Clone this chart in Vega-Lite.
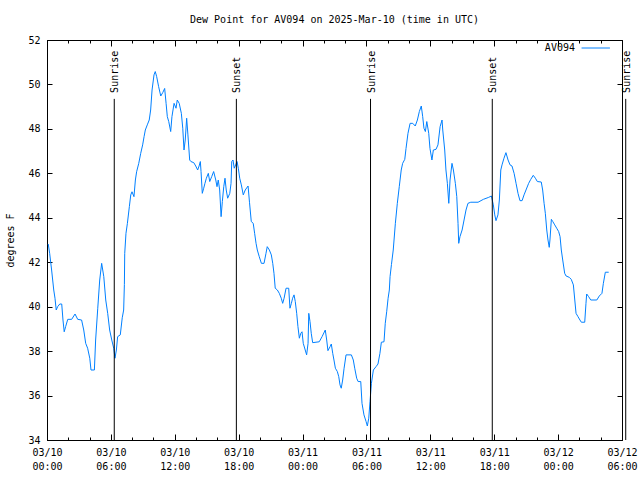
{
  "$schema": "https://vega.github.io/schema/vega-lite/v6.json",
  "width": 575,
  "height": 400,
  "autosize": {"type": "none"},
  "padding": {"left": 47, "top": 40, "right": 18, "bottom": 40},
  "background": "white",
  "title": {"text": "Dew Point for AV094 on 2025-Mar-10 (time in UTC)", "font": "DejaVu Sans Mono", "fontSize": 10, "fontWeight": "normal", "color": "black", "anchor": "middle", "offset": 10},
  "config": {
    "font": "DejaVu Sans Mono",
    "view": {"stroke": "black", "strokeWidth": 1},
    "axis": {"labelFont": "DejaVu Sans Mono", "labelFontSize": 10, "labelColor": "black", "domainColor": "black", "tickColor": "black", "grid": false, "titleFont": "DejaVu Sans Mono", "titleFontSize": 10, "titleFontWeight": "normal", "titleColor": "black"}
  },
  "datasets": {
    "dew": [
      {"t":"2025-03-10T00:07:00Z","v":42.82},{"t":"2025-03-10T00:15:00Z","v":42.40},{"t":"2025-03-10T00:26:00Z","v":41.65},{"t":"2025-03-10T00:38:00Z","v":40.75},{"t":"2025-03-10T00:45:00Z","v":40.38},{"t":"2025-03-10T00:52:00Z","v":39.85},{"t":"2025-03-10T01:00:00Z","v":40.00},{"t":"2025-03-10T01:12:00Z","v":40.12},{"t":"2025-03-10T01:23:00Z","v":40.12},{"t":"2025-03-10T01:30:00Z","v":39.40},{"t":"2025-03-10T01:37:00Z","v":38.87},{"t":"2025-03-10T01:45:00Z","v":39.10},{"t":"2025-03-10T01:57:00Z","v":39.43},{"t":"2025-03-10T02:19:00Z","v":39.43},{"t":"2025-03-10T02:38:00Z","v":39.67},{"t":"2025-03-10T02:53:00Z","v":39.43},{"t":"2025-03-10T03:15:00Z","v":39.40},{"t":"2025-03-10T03:27:00Z","v":38.95},{"t":"2025-03-10T03:38:00Z","v":38.35},{"t":"2025-03-10T03:49:00Z","v":38.13},{"t":"2025-03-10T04:01:00Z","v":37.68},{"t":"2025-03-10T04:08:00Z","v":37.15},{"t":"2025-03-10T04:27:00Z","v":37.15},{"t":"2025-03-10T04:34:00Z","v":38.50},{"t":"2025-03-10T04:46:00Z","v":39.93},{"t":"2025-03-10T04:57:00Z","v":41.20},{"t":"2025-03-10T05:08:00Z","v":41.95},{"t":"2025-03-10T05:20:00Z","v":41.35},{"t":"2025-03-10T05:31:00Z","v":40.30},{"t":"2025-03-10T05:42:00Z","v":39.70},{"t":"2025-03-10T05:53:00Z","v":38.95},{"t":"2025-03-10T06:05:00Z","v":38.50},{"t":"2025-03-10T06:16:00Z","v":38.13},{"t":"2025-03-10T06:23:00Z","v":37.68},{"t":"2025-03-10T06:31:00Z","v":38.05},{"t":"2025-03-10T06:38:00Z","v":38.65},{"t":"2025-03-10T06:53:00Z","v":38.73},{"t":"2025-03-10T07:04:00Z","v":39.50},{"t":"2025-03-10T07:12:00Z","v":39.85},{"t":"2025-03-10T07:16:00Z","v":41.00},{"t":"2025-03-10T07:18:00Z","v":42.40},{"t":"2025-03-10T07:25:00Z","v":43.30},{"t":"2025-03-10T07:33:00Z","v":43.75},{"t":"2025-03-10T07:44:00Z","v":44.50},{"t":"2025-03-10T07:52:00Z","v":45.03},{"t":"2025-03-10T07:59:00Z","v":45.17},{"t":"2025-03-10T08:10:00Z","v":44.95},{"t":"2025-03-10T08:18:00Z","v":45.70},{"t":"2025-03-10T08:25:00Z","v":46.07},{"t":"2025-03-10T08:37:00Z","v":46.45},{"t":"2025-03-10T08:48:00Z","v":46.90},{"t":"2025-03-10T08:59:00Z","v":47.28},{"t":"2025-03-10T09:07:00Z","v":47.65},{"t":"2025-03-10T09:14:00Z","v":47.95},{"t":"2025-03-10T09:25:00Z","v":48.18},{"t":"2025-03-10T09:36:00Z","v":48.40},{"t":"2025-03-10T09:44:00Z","v":48.85},{"t":"2025-03-10T09:52:00Z","v":49.75},{"t":"2025-03-10T10:03:00Z","v":50.43},{"t":"2025-03-10T10:10:00Z","v":50.58},{"t":"2025-03-10T10:18:00Z","v":50.35},{"t":"2025-03-10T10:29:00Z","v":49.90},{"t":"2025-03-10T10:41:00Z","v":49.48},{"t":"2025-03-10T10:52:00Z","v":49.63},{"t":"2025-03-10T11:03:00Z","v":49.82},{"t":"2025-03-10T11:11:00Z","v":49.15},{"t":"2025-03-10T11:18:00Z","v":48.55},{"t":"2025-03-10T11:26:00Z","v":48.33},{"t":"2025-03-10T11:37:00Z","v":47.88},{"t":"2025-03-10T11:44:00Z","v":48.55},{"t":"2025-03-10T11:56:00Z","v":49.15},{"t":"2025-03-10T12:07:00Z","v":48.93},{"t":"2025-03-10T12:14:00Z","v":49.30},{"t":"2025-03-10T12:25:00Z","v":49.15},{"t":"2025-03-10T12:37:00Z","v":48.70},{"t":"2025-03-10T12:45:00Z","v":48.03},{"t":"2025-03-10T12:52:00Z","v":47.05},{"t":"2025-03-10T12:59:00Z","v":47.50},{"t":"2025-03-10T13:07:00Z","v":48.48},{"t":"2025-03-10T13:14:00Z","v":47.73},{"t":"2025-03-10T13:24:00Z","v":46.60},{"t":"2025-03-10T13:31:00Z","v":46.53},{"t":"2025-03-10T13:47:00Z","v":46.48},{"t":"2025-03-10T13:58:00Z","v":46.33},{"t":"2025-03-10T14:09:00Z","v":46.15},{"t":"2025-03-10T14:17:00Z","v":46.33},{"t":"2025-03-10T14:24:00Z","v":46.53},{"t":"2025-03-10T14:28:00Z","v":46.08},{"t":"2025-03-10T14:35:00Z","v":45.10},{"t":"2025-03-10T14:43:00Z","v":45.33},{"t":"2025-03-10T14:50:00Z","v":45.55},{"t":"2025-03-10T14:58:00Z","v":45.78},{"t":"2025-03-10T15:09:00Z","v":46.00},{"t":"2025-03-10T15:17:00Z","v":45.63},{"t":"2025-03-10T15:28:00Z","v":45.85},{"t":"2025-03-10T15:39:00Z","v":46.08},{"t":"2025-03-10T15:51:00Z","v":45.70},{"t":"2025-03-10T15:58:00Z","v":45.40},{"t":"2025-03-10T16:05:00Z","v":45.70},{"t":"2025-03-10T16:13:00Z","v":45.25},{"t":"2025-03-10T16:21:00Z","v":44.05},{"t":"2025-03-10T16:28:00Z","v":44.73},{"t":"2025-03-10T16:36:00Z","v":45.40},{"t":"2025-03-10T16:43:00Z","v":45.78},{"t":"2025-03-10T16:50:00Z","v":45.25},{"t":"2025-03-10T16:58:00Z","v":44.88},{"t":"2025-03-10T17:10:00Z","v":45.10},{"t":"2025-03-10T17:17:00Z","v":45.55},{"t":"2025-03-10T17:21:00Z","v":46.53},{"t":"2025-03-10T17:28:00Z","v":46.60},{"t":"2025-03-10T17:35:00Z","v":46.23},{"t":"2025-03-10T17:43:00Z","v":46.38},{"t":"2025-03-10T17:51:00Z","v":46.53},{"t":"2025-03-10T17:58:00Z","v":46.23},{"t":"2025-03-10T18:06:00Z","v":45.78},{"t":"2025-03-10T18:15:00Z","v":45.48},{"t":"2025-03-10T18:26:00Z","v":45.03},{"t":"2025-03-10T18:37:00Z","v":45.25},{"t":"2025-03-10T18:53:00Z","v":45.43},{"t":"2025-03-10T19:01:00Z","v":44.70},{"t":"2025-03-10T19:11:00Z","v":43.83},{"t":"2025-03-10T19:22:00Z","v":43.75},{"t":"2025-03-10T19:30:00Z","v":43.30},{"t":"2025-03-10T19:38:00Z","v":42.85},{"t":"2025-03-10T19:45:00Z","v":42.55},{"t":"2025-03-10T19:56:00Z","v":42.25},{"t":"2025-03-10T20:08:00Z","v":41.95},{"t":"2025-03-10T20:23:00Z","v":41.95},{"t":"2025-03-10T20:34:00Z","v":42.40},{"t":"2025-03-10T20:41:00Z","v":42.70},{"t":"2025-03-10T20:53:00Z","v":42.55},{"t":"2025-03-10T21:04:00Z","v":42.33},{"t":"2025-03-10T21:12:00Z","v":41.95},{"t":"2025-03-10T21:19:00Z","v":41.50},{"t":"2025-03-10T21:26:00Z","v":40.83},{"t":"2025-03-10T21:38:00Z","v":40.75},{"t":"2025-03-10T21:49:00Z","v":40.60},{"t":"2025-03-10T22:00:00Z","v":40.38},{"t":"2025-03-10T22:08:00Z","v":40.15},{"t":"2025-03-10T22:16:00Z","v":40.38},{"t":"2025-03-10T22:27:00Z","v":40.83},{"t":"2025-03-10T22:42:00Z","v":40.83},{"t":"2025-03-10T22:49:00Z","v":39.93},{"t":"2025-03-10T22:57:00Z","v":40.15},{"t":"2025-03-10T23:04:00Z","v":40.38},{"t":"2025-03-10T23:12:00Z","v":40.53},{"t":"2025-03-10T23:19:00Z","v":40.23},{"t":"2025-03-10T23:27:00Z","v":39.70},{"t":"2025-03-10T23:34:00Z","v":39.10},{"t":"2025-03-10T23:42:00Z","v":38.58},{"t":"2025-03-10T23:50:00Z","v":38.80},{"t":"2025-03-10T23:57:00Z","v":38.87},
      {"t":"2025-03-11T00:04:00Z","v":38.35},{"t":"2025-03-11T00:15:00Z","v":38.05},{"t":"2025-03-11T00:23:00Z","v":37.83},{"t":"2025-03-11T00:31:00Z","v":38.35},{"t":"2025-03-11T00:35:00Z","v":39.70},{"t":"2025-03-11T00:42:00Z","v":39.33},{"t":"2025-03-11T00:49:00Z","v":38.80},{"t":"2025-03-11T00:57:00Z","v":38.38},{"t":"2025-03-11T01:34:00Z","v":38.42},{"t":"2025-03-11T01:50:00Z","v":38.65},{"t":"2025-03-11T02:08:00Z","v":38.95},{"t":"2025-03-11T02:16:00Z","v":38.50},{"t":"2025-03-11T02:23:00Z","v":38.02},{"t":"2025-03-11T02:35:00Z","v":38.20},{"t":"2025-03-11T02:42:00Z","v":38.32},{"t":"2025-03-11T02:50:00Z","v":37.90},{"t":"2025-03-11T02:57:00Z","v":37.60},{"t":"2025-03-11T03:05:00Z","v":37.23},{"t":"2025-03-11T03:16:00Z","v":37.08},{"t":"2025-03-11T03:24:00Z","v":36.85},{"t":"2025-03-11T03:31:00Z","v":36.48},{"t":"2025-03-11T03:38:00Z","v":36.33},{"t":"2025-03-11T03:46:00Z","v":36.70},{"t":"2025-03-11T03:54:00Z","v":37.23},{"t":"2025-03-11T04:05:00Z","v":37.83},{"t":"2025-03-11T04:35:00Z","v":37.83},{"t":"2025-03-11T04:46:00Z","v":37.60},{"t":"2025-03-11T04:54:00Z","v":37.23},{"t":"2025-03-11T05:05:00Z","v":36.78},{"t":"2025-03-11T05:13:00Z","v":36.63},{"t":"2025-03-11T05:28:00Z","v":36.63},{"t":"2025-03-11T05:35:00Z","v":35.65},{"t":"2025-03-11T05:46:00Z","v":35.13},{"t":"2025-03-11T05:58:00Z","v":34.83},{"t":"2025-03-11T06:05:00Z","v":34.63},{"t":"2025-03-11T06:13:00Z","v":34.98},{"t":"2025-03-11T06:20:00Z","v":35.72},{"t":"2025-03-11T06:28:00Z","v":36.55},{"t":"2025-03-11T06:39:00Z","v":37.15},{"t":"2025-03-11T06:54:00Z","v":37.30},{"t":"2025-03-11T07:05:00Z","v":37.42},{"t":"2025-03-11T07:16:00Z","v":37.90},{"t":"2025-03-11T07:24:00Z","v":38.40},{"t":"2025-03-11T07:39:00Z","v":38.42},{"t":"2025-03-11T07:46:00Z","v":39.25},{"t":"2025-03-11T07:54:00Z","v":39.77},{"t":"2025-03-11T08:02:00Z","v":40.38},{"t":"2025-03-11T08:09:00Z","v":40.75},{"t":"2025-03-11T08:13:00Z","v":41.35},{"t":"2025-03-11T08:21:00Z","v":41.90},{"t":"2025-03-11T08:31:00Z","v":42.55},{"t":"2025-03-11T08:43:00Z","v":43.75},{"t":"2025-03-11T08:54:00Z","v":44.65},{"t":"2025-03-11T09:05:00Z","v":45.40},{"t":"2025-03-11T09:16:00Z","v":46.15},{"t":"2025-03-11T09:24:00Z","v":46.45},{"t":"2025-03-11T09:36:00Z","v":46.63},{"t":"2025-03-11T09:43:00Z","v":47.12},{"t":"2025-03-11T09:54:00Z","v":47.80},{"t":"2025-03-11T10:06:00Z","v":48.25},{"t":"2025-03-11T10:21:00Z","v":48.25},{"t":"2025-03-11T10:35:00Z","v":48.13},{"t":"2025-03-11T10:47:00Z","v":48.40},{"t":"2025-03-11T10:58:00Z","v":48.78},{"t":"2025-03-11T11:09:00Z","v":49.03},{"t":"2025-03-11T11:17:00Z","v":48.55},{"t":"2025-03-11T11:24:00Z","v":48.03},{"t":"2025-03-11T11:32:00Z","v":47.88},{"t":"2025-03-11T11:40:00Z","v":48.33},{"t":"2025-03-11T11:51:00Z","v":47.80},{"t":"2025-03-11T11:58:00Z","v":47.12},{"t":"2025-03-11T12:09:00Z","v":46.60},{"t":"2025-03-11T12:17:00Z","v":47.05},{"t":"2025-03-11T12:32:00Z","v":47.08},{"t":"2025-03-11T12:43:00Z","v":47.28},{"t":"2025-03-11T12:55:00Z","v":48.10},{"t":"2025-03-11T13:06:00Z","v":48.40},{"t":"2025-03-11T13:10:00Z","v":47.95},{"t":"2025-03-11T13:21:00Z","v":47.05},{"t":"2025-03-11T13:28:00Z","v":46.15},{"t":"2025-03-11T13:36:00Z","v":45.55},{"t":"2025-03-11T13:44:00Z","v":44.65},{"t":"2025-03-11T13:51:00Z","v":45.70},{"t":"2025-03-11T14:02:00Z","v":46.45},{"t":"2025-03-11T14:10:00Z","v":46.15},{"t":"2025-03-11T14:21:00Z","v":45.55},{"t":"2025-03-11T14:29:00Z","v":44.95},{"t":"2025-03-11T14:36:00Z","v":43.75},{"t":"2025-03-11T14:40:00Z","v":42.85},{"t":"2025-03-11T14:47:00Z","v":43.15},{"t":"2025-03-11T14:59:00Z","v":43.45},{"t":"2025-03-11T15:10:00Z","v":43.90},{"t":"2025-03-11T15:21:00Z","v":44.35},{"t":"2025-03-11T15:32:00Z","v":44.65},{"t":"2025-03-11T15:48:00Z","v":44.70},{"t":"2025-03-11T16:29:00Z","v":44.70},{"t":"2025-03-11T16:59:00Z","v":44.83},{"t":"2025-03-11T17:29:00Z","v":44.92},{"t":"2025-03-11T17:44:00Z","v":44.98},{"t":"2025-03-11T17:55:00Z","v":44.58},{"t":"2025-03-11T18:03:00Z","v":44.13},{"t":"2025-03-11T18:10:00Z","v":43.87},{"t":"2025-03-11T18:21:00Z","v":44.13},{"t":"2025-03-11T18:29:00Z","v":44.80},{"t":"2025-03-11T18:37:00Z","v":46.15},{"t":"2025-03-11T18:44:00Z","v":46.38},{"t":"2025-03-11T18:55:00Z","v":46.68},{"t":"2025-03-11T19:06:00Z","v":46.93},{"t":"2025-03-11T19:18:00Z","v":46.60},{"t":"2025-03-11T19:29:00Z","v":46.38},{"t":"2025-03-11T19:40:00Z","v":46.33},{"t":"2025-03-11T19:52:00Z","v":46.00},{"t":"2025-03-11T20:03:00Z","v":45.55},{"t":"2025-03-11T20:14:00Z","v":45.10},{"t":"2025-03-11T20:25:00Z","v":44.77},{"t":"2025-03-11T20:37:00Z","v":44.77},{"t":"2025-03-11T20:48:00Z","v":45.03},{"t":"2025-03-11T20:59:00Z","v":45.25},{"t":"2025-03-11T21:14:00Z","v":45.55},{"t":"2025-03-11T21:26:00Z","v":45.73},{"t":"2025-03-11T21:40:00Z","v":45.91},{"t":"2025-03-11T21:52:00Z","v":45.78},{"t":"2025-03-11T22:03:00Z","v":45.63},{"t":"2025-03-11T22:25:00Z","v":45.61},{"t":"2025-03-11T22:33:00Z","v":45.25},{"t":"2025-03-11T22:41:00Z","v":44.65},{"t":"2025-03-11T22:48:00Z","v":44.20},{"t":"2025-03-11T22:56:00Z","v":43.45},{"t":"2025-03-11T23:03:00Z","v":43.00},{"t":"2025-03-11T23:10:00Z","v":42.67},{"t":"2025-03-11T23:14:00Z","v":43.00},{"t":"2025-03-11T23:22:00Z","v":43.93},{"t":"2025-03-11T23:30:00Z","v":43.83},{"t":"2025-03-11T23:41:00Z","v":43.68},{"t":"2025-03-11T23:52:00Z","v":43.53},
      {"t":"2025-03-12T00:03:00Z","v":43.38},{"t":"2025-03-12T00:11:00Z","v":43.15},{"t":"2025-03-12T00:18:00Z","v":42.55},{"t":"2025-03-12T00:26:00Z","v":42.10},{"t":"2025-03-12T00:37:00Z","v":41.50},{"t":"2025-03-12T00:45:00Z","v":41.38},{"t":"2025-03-12T01:03:00Z","v":41.32},{"t":"2025-03-12T01:14:00Z","v":41.23},{"t":"2025-03-12T01:26:00Z","v":40.98},{"t":"2025-03-12T01:34:00Z","v":40.30},{"t":"2025-03-12T01:41:00Z","v":39.70},{"t":"2025-03-12T01:52:00Z","v":39.55},{"t":"2025-03-12T02:03:00Z","v":39.40},{"t":"2025-03-12T02:11:00Z","v":39.30},{"t":"2025-03-12T02:30:00Z","v":39.30},{"t":"2025-03-12T02:37:00Z","v":40.15},{"t":"2025-03-12T02:41:00Z","v":40.57},{"t":"2025-03-12T02:52:00Z","v":40.45},{"t":"2025-03-12T03:04:00Z","v":40.30},{"t":"2025-03-12T03:38:00Z","v":40.30},{"t":"2025-03-12T03:52:00Z","v":40.48},{"t":"2025-03-12T04:07:00Z","v":40.60},{"t":"2025-03-12T04:15:00Z","v":41.05},{"t":"2025-03-12T04:26:00Z","v":41.55},{"t":"2025-03-12T04:45:00Z","v":41.55}
    ],
    "events": [
      {"t":"2025-03-10T06:19:00Z","label":"Sunrise"},
      {"t":"2025-03-10T17:47:00Z","label":"Sunset"},
      {"t":"2025-03-11T06:23:00Z","label":"Sunrise"},
      {"t":"2025-03-11T17:49:00Z","label":"Sunset"},
      {"t":"2025-03-12T06:21:00Z","label":"Sunrise"}
    ],
    "key": [{"name": "AV094", "start": "2025-03-12T02:12:00Z", "end": "2025-03-12T04:52:00Z", "textpos": "2025-03-12T01:35:00Z"}]
  },
  "layer": [
    {
      "data": {"name": "dew"},
      "mark": {"type": "line", "color": "#0080ff", "strokeWidth": 1},
      "encoding": {
        "x": {"field": "t", "type": "temporal",
          "scale": {"type": "utc", "domain": ["2025-03-10T00:00:00Z", "2025-03-12T06:00:00Z"]},
          "axis": {"orient": "bottom", "title": null, "tickCount": 9, "tickSize": -6,
            "labelExpr": "[utcFormat(datum.value, '%m/%d'), utcFormat(datum.value, '%H:%M')]",
            "labelOverlap": false, "labelFlush": false, "labelBound": false, "labelPadding": 13, "labelLineHeight": 14, "labelBaseline": "top"}},
        "y": {"field": "v", "type": "quantitative",
          "scale": {"domain": [34, 52], "nice": false, "zero": false},
          "axis": {"orient": "left", "values": [34, 36, 38, 40, 42, 44, 46, 48, 50, 52], "tickSize": -5, "labelPadding": 12, "title": "degrees F", "titlePadding": 12}}
      }
    },
    {
      "data": {"name": "events"},
      "mark": {"type": "rule", "color": "black", "strokeWidth": 1},
      "encoding": {
        "x": {"field": "t", "type": "temporal",
          "axis": {"orient": "top", "title": null, "labels": false, "tickCount": 9, "tickSize": -6}},
        "y": {"datum": 34, "type": "quantitative",
          "axis": {"orient": "right", "title": null, "labels": false, "values": [34, 36, 38, 40, 42, 44, 46, 48, 50, 52], "tickSize": -5}},
        "y2": {"datum": 49.35}
      }
    },
    {
      "data": {"name": "events"},
      "mark": {"type": "text", "angle": 270, "align": "left", "baseline": "middle", "dy": 1, "fontSize": 10, "font": "DejaVu Sans Mono", "color": "black"},
      "encoding": {
        "x": {"field": "t", "type": "temporal",
          "axis": {"orient": "bottom", "title": null, "labels": false, "domain": false, "tickSize": -3,
            "values": [
              {"year": 2025, "month": 3, "date": 10, "hours": 2, "utc": true}, {"year": 2025, "month": 3, "date": 10, "hours": 4, "utc": true},
              {"year": 2025, "month": 3, "date": 10, "hours": 8, "utc": true}, {"year": 2025, "month": 3, "date": 10, "hours": 10, "utc": true},
              {"year": 2025, "month": 3, "date": 10, "hours": 14, "utc": true}, {"year": 2025, "month": 3, "date": 10, "hours": 16, "utc": true},
              {"year": 2025, "month": 3, "date": 10, "hours": 20, "utc": true}, {"year": 2025, "month": 3, "date": 10, "hours": 22, "utc": true},
              {"year": 2025, "month": 3, "date": 11, "hours": 2, "utc": true}, {"year": 2025, "month": 3, "date": 11, "hours": 4, "utc": true},
              {"year": 2025, "month": 3, "date": 11, "hours": 8, "utc": true}, {"year": 2025, "month": 3, "date": 11, "hours": 10, "utc": true},
              {"year": 2025, "month": 3, "date": 11, "hours": 14, "utc": true}, {"year": 2025, "month": 3, "date": 11, "hours": 16, "utc": true},
              {"year": 2025, "month": 3, "date": 11, "hours": 20, "utc": true}, {"year": 2025, "month": 3, "date": 11, "hours": 22, "utc": true},
              {"year": 2025, "month": 3, "date": 12, "hours": 2, "utc": true}, {"year": 2025, "month": 3, "date": 12, "hours": 4, "utc": true}
            ]}},
        "y": {"datum": 49.62, "type": "quantitative", "axis": null},
        "text": {"field": "label"}
      }
    },
    {
      "data": {"name": "key"},
      "mark": {"type": "rule", "color": "#0080ff", "strokeWidth": 1},
      "encoding": {
        "x": {"field": "start", "type": "temporal",
          "axis": {"orient": "top", "title": null, "labels": false, "domain": false, "tickSize": -3,
            "values": [
              {"year": 2025, "month": 3, "date": 10, "hours": 2, "utc": true}, {"year": 2025, "month": 3, "date": 10, "hours": 4, "utc": true},
              {"year": 2025, "month": 3, "date": 10, "hours": 8, "utc": true}, {"year": 2025, "month": 3, "date": 10, "hours": 10, "utc": true},
              {"year": 2025, "month": 3, "date": 10, "hours": 14, "utc": true}, {"year": 2025, "month": 3, "date": 10, "hours": 16, "utc": true},
              {"year": 2025, "month": 3, "date": 10, "hours": 20, "utc": true}, {"year": 2025, "month": 3, "date": 10, "hours": 22, "utc": true},
              {"year": 2025, "month": 3, "date": 11, "hours": 2, "utc": true}, {"year": 2025, "month": 3, "date": 11, "hours": 4, "utc": true},
              {"year": 2025, "month": 3, "date": 11, "hours": 8, "utc": true}, {"year": 2025, "month": 3, "date": 11, "hours": 10, "utc": true},
              {"year": 2025, "month": 3, "date": 11, "hours": 14, "utc": true}, {"year": 2025, "month": 3, "date": 11, "hours": 16, "utc": true},
              {"year": 2025, "month": 3, "date": 11, "hours": 20, "utc": true}, {"year": 2025, "month": 3, "date": 11, "hours": 22, "utc": true},
              {"year": 2025, "month": 3, "date": 12, "hours": 2, "utc": true}, {"year": 2025, "month": 3, "date": 12, "hours": 4, "utc": true}
            ]}},
        "x2": {"field": "end"},
        "y": {"datum": 51.64, "type": "quantitative", "axis": null}
      }
    },
    {
      "data": {"name": "key"},
      "mark": {"type": "text", "align": "right", "baseline": "middle", "fontSize": 10, "font": "DejaVu Sans Mono", "color": "black"},
      "encoding": {
        "x": {"field": "textpos", "type": "temporal", "axis": null},
        "y": {"datum": 51.64, "type": "quantitative", "axis": null},
        "text": {"field": "name"}
      }
    }
  ],
  "resolve": {"axis": {"x": "independent", "y": "independent"}}
}
